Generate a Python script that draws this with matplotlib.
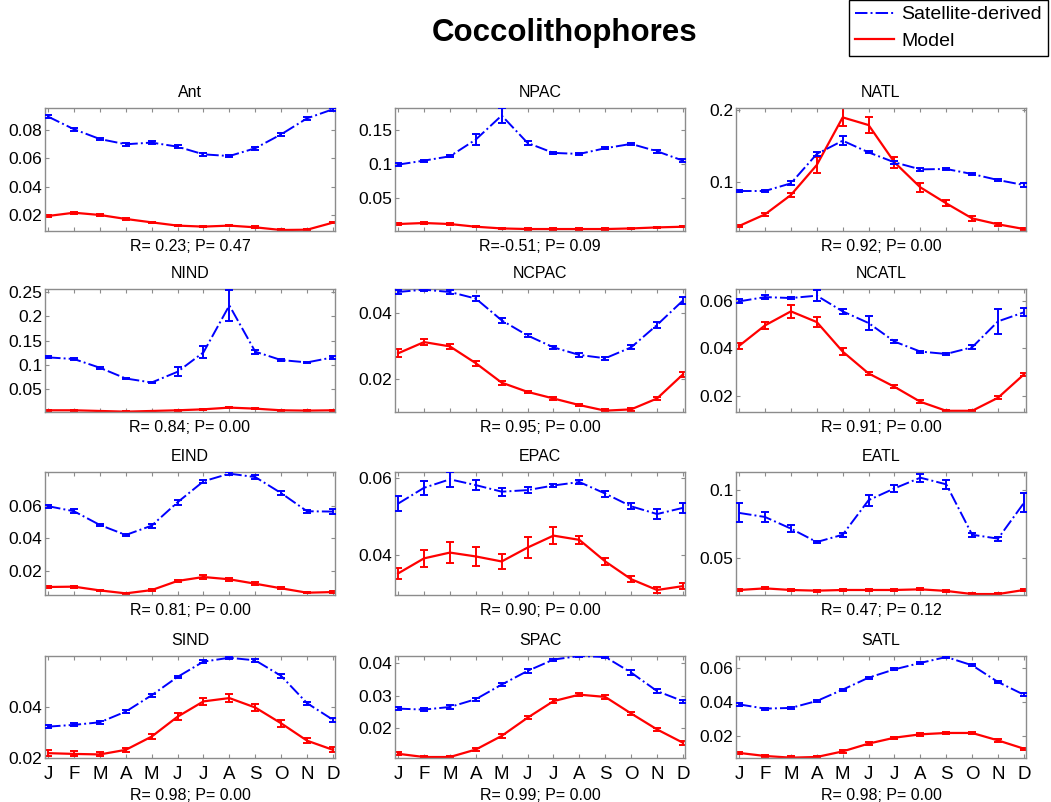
import numpy as np
import matplotlib
matplotlib.use("Agg")
import matplotlib.pyplot as plt
from matplotlib.ticker import FormatStrFormatter

plt.rcParams['font.family'] = ['Liberation Sans', 'DejaVu Sans']

# ---- data ----
months = ['J', 'F', 'M', 'A', 'M', 'J', 'J', 'A', 'S', 'O', 'N', 'D']
regions = ['Ant', 'NPAC', 'NATL', 'NIND', 'NCPAC', 'NCATL',
           'EIND', 'EPAC', 'EATL', 'SIND', 'SPAC', 'SATL']
stats = ['R= 0.23; P= 0.47', 'R=-0.51; P= 0.09', 'R= 0.92; P= 0.00',
         'R= 0.84; P= 0.00', 'R= 0.95; P= 0.00', 'R= 0.91; P= 0.00',
         'R= 0.81; P= 0.00', 'R= 0.90; P= 0.00', 'R= 0.47; P= 0.12',
         'R= 0.98; P= 0.00', 'R= 0.99; P= 0.00', 'R= 0.98; P= 0.00']

sat_mean = [
    [0.0894, 0.0805, 0.0736, 0.0699, 0.0711, 0.0682, 0.0628, 0.0616, 0.0671, 0.0769, 0.0882, 0.0946],
    [0.0990, 0.1049, 0.1113, 0.1360, 0.1715, 0.1310, 0.1163, 0.1148, 0.1232, 0.1296, 0.1187, 0.1049],
    [0.0870, 0.0870, 0.0977, 0.1386, 0.1572, 0.1409, 0.1270, 0.1172, 0.1177, 0.1107, 0.1023, 0.0953],
    [0.1158, 0.1124, 0.0945, 0.0725, 0.0643, 0.0863, 0.1261, 0.2223, 0.1275, 0.1103, 0.1055, 0.1158],
    [0.0464, 0.0471, 0.0464, 0.0444, 0.0378, 0.0332, 0.0296, 0.0273, 0.0263, 0.0296, 0.0364, 0.0438],
    [0.0597, 0.0615, 0.0611, 0.0621, 0.0555, 0.0506, 0.0428, 0.0386, 0.0376, 0.0404, 0.0513, 0.0551],
    [0.0597, 0.0566, 0.0482, 0.0421, 0.0478, 0.0621, 0.0749, 0.0796, 0.0775, 0.0677, 0.0566, 0.0564],
    [0.0533, 0.0574, 0.0596, 0.0581, 0.0564, 0.0568, 0.0580, 0.0589, 0.0559, 0.0526, 0.0506, 0.0522],
    [0.0834, 0.0804, 0.0718, 0.0619, 0.0673, 0.0928, 0.1015, 0.1094, 0.1045, 0.0673, 0.0644, 0.0908],
    [0.0322, 0.0329, 0.0339, 0.0381, 0.0445, 0.0517, 0.0577, 0.0592, 0.0582, 0.0521, 0.0414, 0.0349],
    [0.0261, 0.0258, 0.0266, 0.0290, 0.0335, 0.0377, 0.0412, 0.0423, 0.0420, 0.0372, 0.0315, 0.0284],
    [0.0384, 0.0359, 0.0363, 0.0404, 0.0471, 0.0542, 0.0591, 0.0629, 0.0664, 0.0615, 0.0516, 0.0441],
]
sat_err = [
    [0.0010] * 12,
    [0.0020, 0.0015, 0.0015, 0.0075, 0.0115, 0.0025, 0.0015, 0.0015, 0.0015, 0.0015, 0.0020, 0.0025],
    [0.0020, 0.0020, 0.0030, 0.0030, 0.0065, 0.0015, 0.0020, 0.0020, 0.0020, 0.0020, 0.0020, 0.0030],
    [0.0020, 0.0030, 0.0020, 0.0020, 0.0020, 0.0095, 0.0125, 0.0310, 0.0040, 0.0015, 0.0015, 0.0030],
    [0.0006, 0.0004, 0.0007, 0.0008, 0.0008, 0.0006, 0.0005, 0.0005, 0.0005, 0.0006, 0.0008, 0.0012],
    [0.0008, 0.0010, 0.0004, 0.0022, 0.0012, 0.0030, 0.0007, 0.0004, 0.0004, 0.0009, 0.0053, 0.0017],
    [0.0009, 0.0011, 0.0009, 0.0008, 0.0013, 0.0015, 0.0009, 0.0008, 0.0011, 0.0011, 0.0009, 0.0016],
    [0.0019, 0.0018, 0.0020, 0.0013, 0.0010, 0.0008, 0.0005, 0.0006, 0.0008, 0.0008, 0.0012, 0.0013],
    [0.0070, 0.0037, 0.0025, 0.0010, 0.0015, 0.0040, 0.0025, 0.0030, 0.0035, 0.0015, 0.0015, 0.0070],
    [0.0006, 0.0006, 0.0006, 0.0005, 0.0006, 0.0005, 0.0006, 0.0004, 0.0007, 0.0007, 0.0006, 0.0007],
    [0.0004, 0.0005, 0.0005, 0.0005, 0.0005, 0.0005, 0.0003, 0.0003, 0.0003, 0.0007, 0.0007, 0.0005],
    [0.0008, 0.0006, 0.0006, 0.0005, 0.0006, 0.0006, 0.0006, 0.0006, 0.0004, 0.0006, 0.0008, 0.0009],
]
mod_mean = [
    [0.0193, 0.0216, 0.0200, 0.0172, 0.0148, 0.0125, 0.0118, 0.0125, 0.0113, 0.0094, 0.0096, 0.0146],
    [0.0113, 0.0128, 0.0113, 0.0073, 0.0048, 0.0039, 0.0039, 0.0039, 0.0039, 0.0048, 0.0063, 0.0073],
    [0.0382, 0.0544, 0.0814, 0.1233, 0.1897, 0.1790, 0.1270, 0.0921, 0.0698, 0.0488, 0.0405, 0.0340],
    [0.0073, 0.0073, 0.0059, 0.0045, 0.0059, 0.0073, 0.0093, 0.0128, 0.0107, 0.0073, 0.0066, 0.0073],
    [0.0278, 0.0312, 0.0299, 0.0248, 0.0189, 0.0161, 0.0141, 0.0121, 0.0104, 0.0108, 0.0141, 0.0214],
    [0.0410, 0.0496, 0.0555, 0.0510, 0.0386, 0.0294, 0.0238, 0.0175, 0.0137, 0.0137, 0.0192, 0.0290],
    [0.0103, 0.0105, 0.0082, 0.0064, 0.0084, 0.0140, 0.0164, 0.0150, 0.0123, 0.0095, 0.0068, 0.0072],
    [0.0352, 0.0391, 0.0406, 0.0396, 0.0383, 0.0419, 0.0450, 0.0439, 0.0383, 0.0337, 0.0309, 0.0319],
    [0.0265, 0.0277, 0.0265, 0.0260, 0.0265, 0.0265, 0.0265, 0.0270, 0.0258, 0.0235, 0.0235, 0.0265],
    [0.0218, 0.0215, 0.0213, 0.0231, 0.0283, 0.0361, 0.0421, 0.0434, 0.0397, 0.0335, 0.0267, 0.0231],
    [0.0122, 0.0112, 0.0112, 0.0135, 0.0177, 0.0233, 0.0284, 0.0304, 0.0297, 0.0246, 0.0197, 0.0156],
    [0.0097, 0.0079, 0.0069, 0.0073, 0.0106, 0.0152, 0.0187, 0.0207, 0.0215, 0.0215, 0.0171, 0.0122],
]
mod_err = [
    [0.0006] * 12,
    [0.0008] * 12,
    [0.0020, 0.0020, 0.0030, 0.0110, 0.0125, 0.0115, 0.0080, 0.0065, 0.0040, 0.0030, 0.0020, 0.0020],
    [0.0008] * 12,
    [0.0012, 0.0008, 0.0008, 0.0007, 0.0006, 0.0004, 0.0004, 0.0004, 0.0004, 0.0004, 0.0005, 0.0008],
    [0.0013, 0.0015, 0.0026, 0.0022, 0.0013, 0.0008, 0.0006, 0.0006, 0.0004, 0.0004, 0.0006, 0.0008],
    [0.0008, 0.0007, 0.0005, 0.0004, 0.0005, 0.0008, 0.0011, 0.0009, 0.0008, 0.0006, 0.0004, 0.0005],
    [0.0015, 0.0022, 0.0027, 0.0025, 0.0020, 0.0027, 0.0022, 0.0010, 0.0010, 0.0007, 0.0008, 0.0008],
    [0.0007] * 12,
    [0.0012, 0.0010, 0.0008, 0.0008, 0.0010, 0.0014, 0.0015, 0.0015, 0.0015, 0.0013, 0.0010, 0.0010],
    [0.0004, 0.0003, 0.0003, 0.0004, 0.0005, 0.0005, 0.0006, 0.0005, 0.0006, 0.0005, 0.0005, 0.0006],
    [0.0007] * 12,
]

# axis ranges and ticks per panel
ylims = [(0.0087, 0.0955), (0.0010, 0.1826), (0.0312, 0.2028),
         (0.0038, 0.2560), (0.0100, 0.0473), (0.0132, 0.0649),
         (0.0054, 0.0806), (0.0296, 0.0615), (0.0228, 0.1136),
         (0.0199, 0.0599), (0.0109, 0.0423), (0.0067, 0.0670)]
yticks = [[0.02, 0.04, 0.06, 0.08], [0.05, 0.1, 0.15], [0.1, 0.2],
          [0.05, 0.1, 0.15, 0.2, 0.25], [0.02, 0.04], [0.02, 0.04, 0.06],
          [0.02, 0.04, 0.06], [0.04, 0.06], [0.05, 0.1],
          [0.02, 0.04], [0.02, 0.03, 0.04], [0.02, 0.04, 0.06]]

W, H = 1051, 802
fig = plt.figure(figsize=(W / 100, H / 100), dpi=100)

col_left = [45, 395, 736]
col_w = 290
row_span = [(108, 231), (289, 412), (472, 595), (656, 758)]
frame_col = '#8c8c8c'
x = np.arange(1, 13)

lines = []
for k, name in enumerate(regions):
    r, c = divmod(k, 3)
    top, bot = row_span[r]
    ax = fig.add_axes([col_left[c] / W, 1 - bot / H, col_w / W, (bot - top) / H])

    hs = ax.errorbar(x, sat_mean[k], yerr=sat_err[k], color='#0000ff', ls='-.',
                     lw=1.4, capsize=3, elinewidth=1.4, capthick=1.4, zorder=3)
    hm = ax.errorbar(x, mod_mean[k], yerr=mod_err[k], color='#ff0000', ls='-',
                     lw=1.6, capsize=3, elinewidth=1.4, capthick=1.4, zorder=2)
    if k == 0:
        lines = [hs.lines[0], hm.lines[0]]

    ax.set_xlim(0.88, 12.08)
    ax.set_ylim(*ylims[k])
    ax.set_xticks(x)
    ax.set_yticks(yticks[k])
    ax.yaxis.set_major_formatter(FormatStrFormatter('%g'))
    ax.tick_params(direction='in', length=3, width=0.8, color=frame_col,
                   top=True, right=True, labelsize=12.5, pad=2)
    for s in ax.spines.values():
        s.set_color(frame_col)
        s.set_linewidth(1.0)

    ax.set_title(name, fontsize=11.5, pad=8)
    if r == 3:
        ax.set_xticklabels(months, fontsize=13.5)
        ax.tick_params(axis='x', pad=6)
        ax.annotate(stats[k], xy=(0.5, 0), xycoords='axes fraction',
                    xytext=(0, -27), textcoords='offset points',
                    ha='center', va='center', fontsize=11.5)
    else:
        ax.set_xticklabels([])
        ax.annotate(stats[k], xy=(0.5, 0), xycoords='axes fraction',
                    xytext=(0, -11.5), textcoords='offset points',
                    ha='center', va='center', fontsize=11.5)

fig.text(565 / W, 1 - 33 / H, 'Coccolithophores', fontsize=22.5, fontweight='bold',
         ha='center', va='center')

leg = fig.legend(lines, ['Satellite-derived', 'Model'], loc='upper right',
                 bbox_to_anchor=(1048 / W, 1.0), fontsize=14, frameon=True,
                 fancybox=False, framealpha=1, edgecolor='black',
                 handlelength=2.0, handletextpad=0.4, borderpad=0.3,
                 labelspacing=0.45, borderaxespad=0)
leg.get_frame().set_linewidth(1.0)

fig.savefig('out.png', dpi=100)
